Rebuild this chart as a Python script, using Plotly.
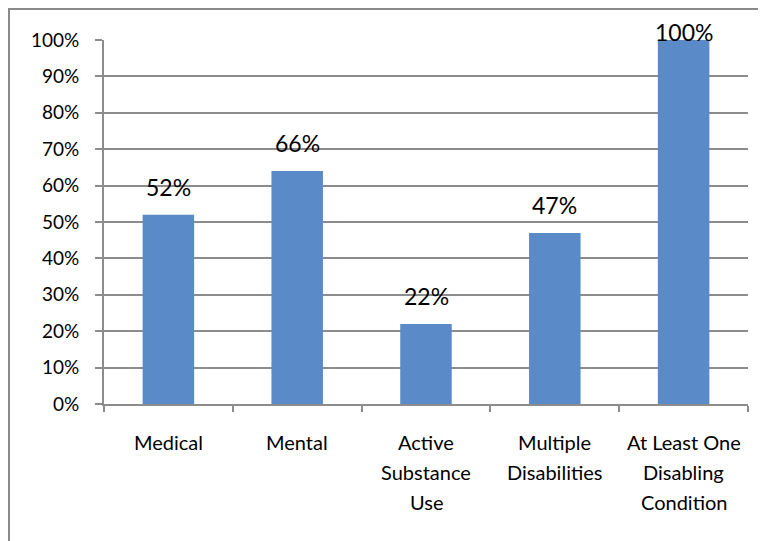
import plotly.graph_objects as go

categories = ["Medical", "Mental", "Active\nSubstance\nUse", "Multiple\nDisabilities", "At Least One\nDisabling\nCondition"]
values = [52, 64, 22, 47, 100]
value_labels = ["52%", "66%", "22%", "47%", "100%"]
y_ticks = [0, 10, 20, 30, 40, 50, 60, 70, 80, 90, 100]

FONT = "Lato, Carlito, Calibri, sans-serif"
GRID = "#8c8c8c"
BAR = "#5a8bc8"

# page has an 8px body margin, so the figure is sized/placed accordingly
W, H = 758, 533
L, R, T, B = 96, 18, 32, 137
pw, ph = W - L - R, H - T - B

xs = list(range(len(categories)))

fig = go.Figure()
fig.add_trace(go.Bar(x=xs, y=values, width=0.4, marker=dict(color=BAR, line=dict(width=0)),
                     hoverinfo="skip", showlegend=False))

ann = []
for i, (v, lab) in enumerate(zip(values, value_labels)):
    ann.append(dict(x=i, y=v, xref="x", yref="y", text=lab, showarrow=False,
                    yanchor="middle", yshift=28 if v < 95 else 8,
                    font=dict(family=FONT, size=23, color="#000000")))
for i, cat in enumerate(categories):
    for j, line in enumerate(cat.split("\n")):
        ann.append(dict(x=i, y=0, xref="x", yref="y", text=line, showarrow=False,
                        yanchor="middle", yshift=-(38 + 30 * j),
                        font=dict(family=FONT, size=20, color="#000000")))

bx = (1 - L) / pw
by = (H - B - 1) / ph
shapes = [dict(type="path", xref="paper", yref="paper",
               path=f"M {bx},-0.6 L {bx},{by} L 1.2,{by}",
               line=dict(color="#8a8a8a", width=2))]

fig.update_layout(
    width=W, height=H,
    margin=dict(l=L, r=R, t=T, b=B, pad=0),
    paper_bgcolor="white", plot_bgcolor="white",
    annotations=ann, shapes=shapes,
    xaxis=dict(range=[-0.5, len(categories) - 0.5], tickmode="array",
               tickvals=[i - 0.5 for i in range(len(categories) + 1)],
               showticklabels=False, ticks="outside", ticklen=6, tickwidth=2,
               tickcolor=GRID, showline=True, linecolor=GRID, linewidth=2,
               showgrid=False, zeroline=False, fixedrange=True),
    yaxis=dict(range=[0, 100], tickmode="array", tickvals=y_ticks,
               ticktext=[f"{t}%" for t in y_ticks],
               ticks="outside", ticklen=7, tickwidth=2, tickcolor=GRID,
               showline=True, linecolor=GRID, linewidth=2,
               showgrid=True, gridcolor=GRID, gridwidth=2, zeroline=False,
               tickfont=dict(family=FONT, size=19, color="#000000"),
               ticklabelstandoff=12, fixedrange=True),
    bargap=0.6,
)

fig.write_html("out.html")
